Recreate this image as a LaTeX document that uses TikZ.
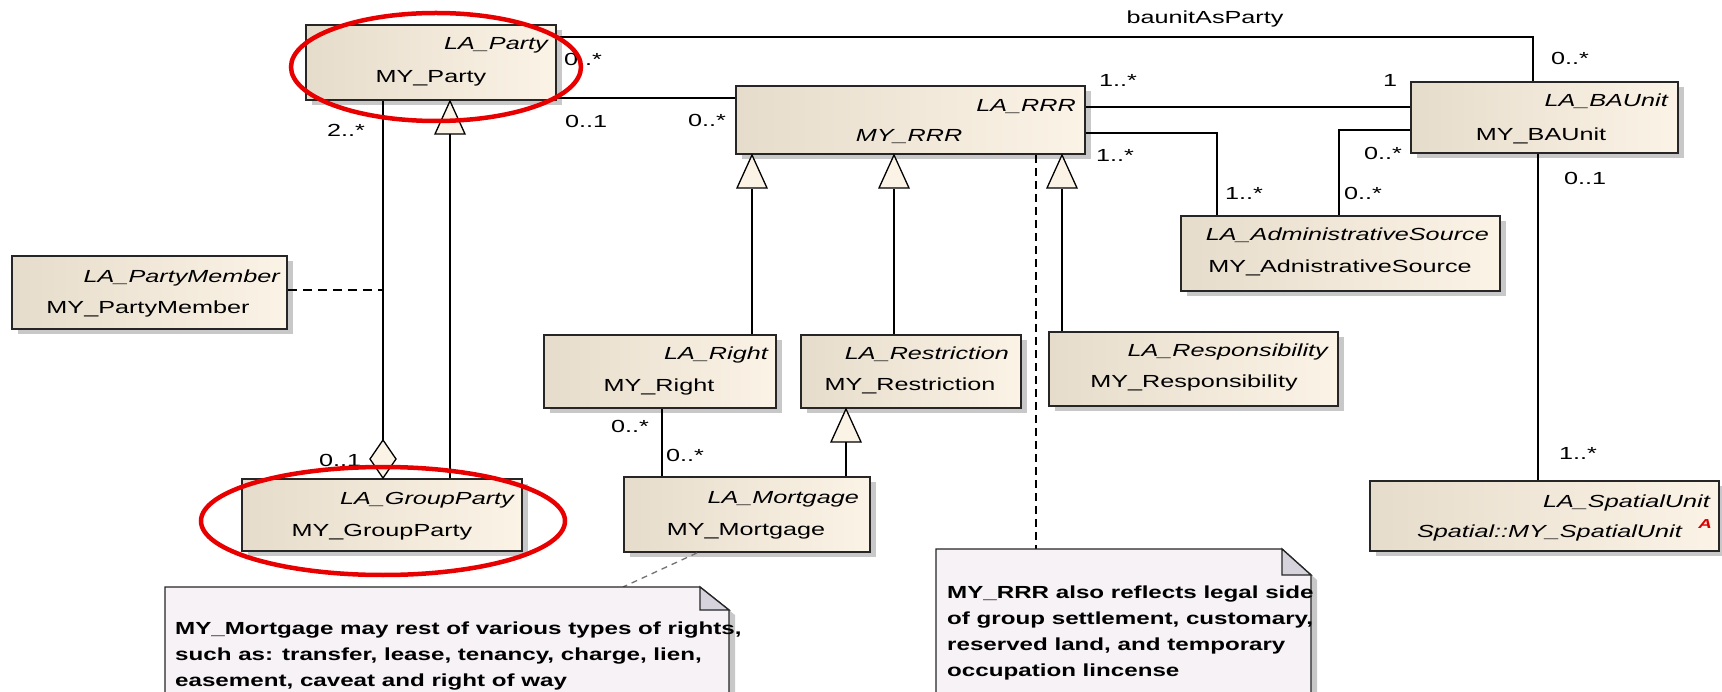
\documentclass[tikz,border=0pt]{standalone}
\usepackage{fontspec}
\setmainfont{Liberation Sans}[FakeStretch=1.44]
\newfontfamily\notefont{Liberation Sans}[FakeStretch=1.38]
\usetikzlibrary{shadows}
\definecolor{boxL}{RGB}{230,220,203}
\definecolor{boxR}{RGB}{251,243,230}
\definecolor{shadowgray}{RGB}{200,200,200}
\definecolor{notefill}{RGB}{246,242,246}
\definecolor{foldfill}{RGB}{214,211,220}
\definecolor{trifill}{RGB}{250,243,230}
\definecolor{ellred}{RGB}{232,0,0}
\newcommand\gentri[2]{\draw[gentip] (#1,#2) -- (#1+15,#2+33) -- (#1-15,#2+33) -- cycle;}
\tikzset{
  umlbox/.style={draw=black!85, line width=1.8pt, left color=boxL, right color=boxR, inner sep=0pt,
    drop shadow={shadow xshift=6pt, shadow yshift=-5pt, fill=shadowgray, opacity=1}},
  lbl/.style={font=\fontsize{17.5}{20}\selectfont, inner sep=0pt},
  ital/.style={font=\fontsize{17.5}{20}\selectfont\itshape, inner sep=0pt},
  notetxt/.style={font=\notefont\fontsize{17.5}{20}\selectfont\bfseries, inner sep=0pt, anchor=base west},
  conn/.style={line width=1.3pt, draw=black},
  gentip/.style={line width=1.3pt, draw=black, fill=trifill},
  notebox/.style={line width=1.3pt, draw=black!85, fill=notefill},
  noteshadow/.style={fill=shadowgray},
  foldbox/.style={line width=1.3pt, draw=black!85, fill=foldfill},
  dashconn/.style={line width=1.3pt, draw=black, dash pattern=on 9pt off 6pt},
  notelink/.style={line width=1.3pt, draw=black!55, dash pattern=on 6pt off 5pt},
  redring/.style={draw=ellred, line width=4.5pt}
}
\begin{document}
\begin{tikzpicture}[x=1pt,y=-1pt]
\useasboundingbox (0,0) rectangle (1722,692);
\fill[white] (0,0) rectangle (1722,692);

% ---------- class boxes ----------
\node[umlbox, minimum width=250pt, minimum height=75pt] (party) at (431,62.5) {};
\node[umlbox, minimum width=349pt, minimum height=68pt] (rrr) at (910.5,120) {};
\node[umlbox, minimum width=267pt, minimum height=71pt] (bau) at (1544.5,117.5) {};
\node[umlbox, minimum width=275pt, minimum height=73pt] (pm) at (149.5,292.5) {};
\node[umlbox, minimum width=319pt, minimum height=75pt] (adm) at (1340.5,253.5) {};
\node[umlbox, minimum width=232pt, minimum height=73pt] (right) at (660,371.5) {};
\node[umlbox, minimum width=220pt, minimum height=73pt] (restr) at (911,371.5) {};
\node[umlbox, minimum width=289pt, minimum height=74pt] (resp) at (1193.5,369) {};
\node[umlbox, minimum width=280pt, minimum height=72pt] (gp) at (382,515) {};
\node[umlbox, minimum width=246pt, minimum height=75pt] (mort) at (747,514.5) {};
\node[umlbox, minimum width=349pt, minimum height=70pt] (spat) at (1544.5,516) {};

% ---------- class texts ----------
\node[ital, anchor=base east] (partyA) at (548,50) {LA\_Party};
\node[lbl, anchor=base] (partyB) at (431,83) {MY\_Party};
\node[ital, anchor=base east] (rrrA) at (1076,112) {LA\_RRR};
\node[ital, anchor=base] (rrrB) at (909,142) {MY\_RRR};
\node[ital, anchor=base east] (bauA) at (1668,107) {LA\_BAUnit};
\node[lbl, anchor=base] (bauB) at (1541,141) {MY\_BAUnit};
\node[ital, anchor=base east] (pmA) at (280,283) {LA\_PartyMember};
\node[lbl, anchor=base] (pmB) at (148,314) {MY\_PartyMember};
\node[ital, anchor=base east] (admA) at (1489,241) {LA\_AdministrativeSource};
\node[lbl, anchor=base] (admB) at (1340,273) {MY\_AdnistrativeSource};
\node[ital, anchor=base east] (rightA) at (768,360) {LA\_Right};
\node[lbl, anchor=base] (rightB) at (659,392) {MY\_Right};
\node[ital, anchor=base east] (restrA) at (1009,360) {LA\_Restriction};
\node[lbl, anchor=base] (restrB) at (910,391) {MY\_Restriction};
\node[ital, anchor=base east] (respA) at (1328,357) {LA\_Responsibility};
\node[lbl, anchor=base] (respB) at (1194,388) {MY\_Responsibility};
\node[ital, anchor=base east] (gpA) at (514,504) {LA\_GroupParty};
\node[lbl, anchor=base] (gpB) at (382,536) {MY\_GroupParty};
\node[ital, anchor=base east] (mortA) at (859,503) {LA\_Mortgage};
\node[lbl, anchor=base] (mortB) at (746,535) {MY\_Mortgage};
\node[ital, anchor=base east] (spatA) at (1710,507) {LA\_SpatialUnit};
\node[ital, anchor=base east] (spatB) at (1682,537) {Spatial::MY\_SpatialUnit};
\node[font=\fontsize{13}{13}\selectfont\bfseries\itshape, text=red!85!black, inner sep=0pt, anchor=base] (spatIcon) at (1705,528) {A};

% ---------- connectors ----------
\coordinate (yTop) at (0,37);
\draw[conn] (party.east |- yTop) -| (1533,0 |- bau.north);
\draw[conn] (party.east |- 0,98) -- (rrr.west |- 0,98);
\draw[conn] (rrr.east |- 0,107) -- (bau.west |- 0,107);
\draw[conn] (rrr.east |- 0,133) -| (1217,0 |- adm.north);
\draw[conn] (bau.west |- 0,130) -| (1339,0 |- adm.north);
\draw[conn] (1538,0 |- bau.south) -- (1538,0 |- spat.north);
% aggregation Party - GroupParty
\coordinate (diaTop) at (383,440);
\draw[conn] (383,0 |- party.south) -- (diaTop);
\draw[gentip] (diaTop) -- (396,459) -- (383,0 |- gp.north) -- (370,459) -- cycle;
% generalization GroupParty -> Party
\draw[conn] (450,0 |- gp.north) -- (450,134);
\gentri{450}{101}
% association class
\draw[dashconn] (pm.east |- 0,290) -- (383,290);
% generalizations to RRR
\draw[conn] (752,0 |- right.north) -- (752,189);
\gentri{752}{155}
\draw[conn] (894,0 |- restr.north) -- (894,189);
\gentri{894}{155}
\draw[conn] (1062,0 |- resp.north) -- (1062,189);
\gentri{1062}{155}
% Right - Mortgage
\draw[conn] (662,0 |- right.south) -- (662,0 |- mort.north);
% Mortgage -> Restriction
\draw[conn] (846,0 |- mort.north) -- (846,442);
\gentri{846}{409}

% ---------- notes ----------
\coordinate (note1top) at (623,587);
\coordinate (note2top) at (1036,549);
\draw[notelink] (697,0 |- mort.south) -- (note1top);
\draw[dashconn, dash pattern=on 8pt off 5pt] (1036,0 |- rrr.south) -- (note2top);

\fill[noteshadow] (171,700) -- (171,592) -- (706,592) -- (735,615) -- (735,700) -- cycle;
\draw[notebox] (165,700) -- (165,587) -- (700,587) -- (729,610) -- (729,700);
\draw[foldbox] (700,587) -- (700,610) -- (729,610) -- cycle;
\node[notetxt] (n1a) at (175,634) {MY\_Mortgage may rest of various types of rights,};
\node[notetxt] (n1b) at (175,660) {such as: transfer, lease, tenancy, charge, lien,};
\node[notetxt] (n1c) at (175,686) {easement, caveat and right of way};

\fill[noteshadow] (942,700) -- (942,554) -- (1288,554) -- (1317,580) -- (1317,700) -- cycle;
\draw[notebox] (936,700) -- (936,549) -- (1282,549) -- (1311,575) -- (1311,700);
\draw[foldbox] (1282,549) -- (1282,575) -- (1311,575) -- cycle;
\node[notetxt] (n2a) at (947,598) {MY\_RRR also reflects legal side};
\node[notetxt] (n2b) at (947,624) {of group settlement, customary,};
\node[notetxt] (n2c) at (947,650) {reserved land, and temporary};
\node[notetxt] (n2d) at (947,676) {occupation lincense};

% ---------- multiplicities and role ----------
\node[lbl, anchor=base] (role) at (1205,24) {baunitAsParty};
\node[lbl, anchor=base west] (m1) at (564,66) {0..*};
\node[lbl, anchor=base west] (m2) at (1551,65) {0..*};
\node[lbl, anchor=base west] (m3) at (565,128) {0..1};
\node[lbl, anchor=base west] (m4) at (688,127) {0..*};
\node[lbl, anchor=base west] (m5) at (327,137) {2..*};
\node[lbl, anchor=base west] (m6) at (1099,87) {1..*};
\node[lbl, anchor=base west] (m7) at (1383,87) {1};
\node[lbl, anchor=base west] (m8) at (1096,162) {1..*};
\node[lbl, anchor=base west] (m9) at (1225,200) {1..*};
\node[lbl, anchor=base west] (m10) at (1364,160) {0..*};
\node[lbl, anchor=base west] (m11) at (1344,200) {0..*};
\node[lbl, anchor=base west] (m12) at (1564,185) {0..1};
\node[lbl, anchor=base west] (m13) at (1559,460) {1..*};
\node[lbl, anchor=base west] (m14) at (611,433) {0..*};
\node[lbl, anchor=base west] (m15) at (666,461) {0..*};
\node[lbl, anchor=base west] (m16) at (319,466) {0..1};

% ---------- red highlight ellipses ----------
\draw[redring] (436,67) ellipse [x radius=145, y radius=54];
\draw[redring] (383,521) ellipse [x radius=182, y radius=54];
\end{tikzpicture}
\end{document}
